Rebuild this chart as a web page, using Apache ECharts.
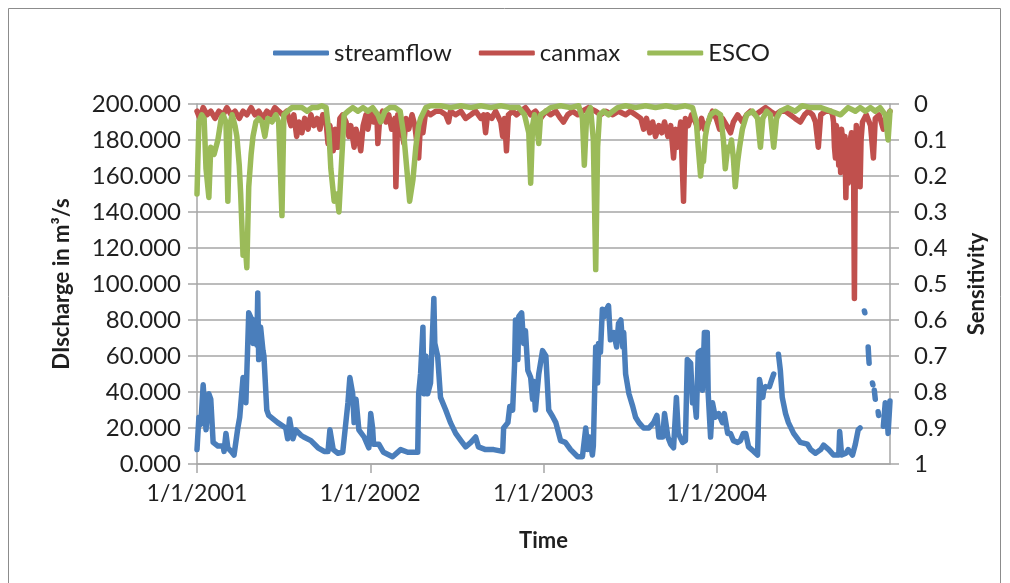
<!DOCTYPE html>
<html>
<head>
<meta charset="utf-8">
<title>Streamflow and parameter sensitivity</title>
<script src="https://cdn.jsdelivr.net/npm/echarts@6/dist/echarts.min.js"></script>
<style>
  html, body { margin: 0; padding: 0; background: #ffffff; }
  #chart { width: 1010px; height: 583px; }
</style>
</head>
<body>
<div id="chart"></div>
<script>
// Daily discharge (m3/s); null marks days with no record
const flowDates = [
  '2001-01-01','2001-01-05','2001-01-09','2001-01-14','2001-01-16','2001-01-20','2001-01-26','2001-01-30',
  '2001-02-04','2001-02-14','2001-02-25','2001-02-27','2001-03-03','2001-03-07','2001-03-14','2001-03-20',
  '2001-03-28','2001-04-01','2001-04-08','2001-04-12','2001-04-14','2001-04-18','2001-04-20','2001-04-25',
  '2001-04-29','2001-05-01','2001-05-07','2001-05-09','2001-05-11','2001-05-13','2001-05-15','2001-05-20',
  '2001-05-22','2001-05-28','2001-06-01','2001-06-20','2001-07-07','2001-07-11','2001-07-15','2001-07-22',
  '2001-07-28','2001-08-08','2001-08-14','2001-08-29','2001-09-13','2001-09-26','2001-10-04','2001-10-08',
  '2001-10-15','2001-10-25','2001-11-04','2001-11-09','2001-11-15','2001-11-19','2001-11-25','2001-11-28',
  '2001-12-02','2001-12-08','2001-12-19','2001-12-29','2002-01-02','2002-01-06','2002-01-08','2002-01-19',
  '2002-01-29','2002-02-17','2002-03-06','2002-03-21','2002-04-03','2002-04-11','2002-04-13','2002-04-17',
  '2002-04-22','2002-04-24','2002-04-28','2002-05-02','2002-05-08','2002-05-15','2002-05-17','2002-05-23',
  '2002-05-29','2002-06-09','2002-06-19','2002-06-30','2002-07-11','2002-07-21','2002-08-01','2002-08-11',
  '2002-08-17','2002-09-01','2002-09-18','2002-10-07','2002-10-09','2002-10-18','2002-10-22','2002-10-28',
  '2002-11-01','2002-11-03','2002-11-08','2002-11-10','2002-11-16','2002-11-20','2002-11-24','2002-11-29',
  '2002-12-05','2002-12-09','2002-12-11','2002-12-15','2002-12-22','2002-12-30','2003-01-06','2003-01-12',
  '2003-01-21','2003-01-27','2003-02-06','2003-02-16','2003-02-27','2003-03-14','2003-03-24','2003-03-31',
  '2003-04-04','2003-04-08','2003-04-14','2003-04-16','2003-04-21','2003-04-25','2003-04-27','2003-05-01',
  '2003-05-05','2003-05-10','2003-05-14','2003-05-18','2003-05-22','2003-05-29','2003-06-04','2003-06-08',
  '2003-06-13','2003-06-17','2003-06-19','2003-06-23','2003-06-30','2003-07-08','2003-07-14','2003-07-21',
  '2003-07-31','2003-08-11','2003-08-21','2003-08-28','2003-09-01','2003-09-09','2003-09-13','2003-09-20',
  '2003-09-26','2003-10-02','2003-10-08','2003-10-12','2003-10-21','2003-10-27','2003-10-31','2003-11-07',
  '2003-11-11','2003-11-15','2003-11-19','2003-11-23','2003-11-28','2003-12-02','2003-12-06','2003-12-12',
  '2003-12-14','2003-12-19','2003-12-23','2003-12-29','2004-01-05','2004-01-13','2004-01-17','2004-01-24',
  '2004-01-30','2004-02-05','2004-02-14','2004-02-20','2004-02-26','2004-03-02','2004-03-08','2004-03-19',
  '2004-03-27','2004-03-31','2004-04-07','2004-04-09','2004-04-13','2004-04-15','2004-04-21','2004-04-26',
  '2004-04-30','2004-05-02','2004-05-10','2004-05-14','2004-05-18','2004-05-25','2004-05-31','2004-06-11',
  '2004-06-25','2004-07-10','2004-07-17','2004-07-27','2004-08-07','2004-08-13','2004-08-24','2004-09-03',
  '2004-09-14','2004-09-16','2004-09-20','2004-09-29','2004-10-04','2004-10-13','2004-10-19','2004-10-25',
  '2004-10-29','2004-10-31','2004-11-07','2004-11-08','2004-11-10','2004-11-15','2004-11-16','2004-11-17',
  '2004-11-19','2004-11-24','2004-11-25','2004-11-27','2004-11-28','2004-11-30','2004-12-02','2004-12-06',
  '2004-12-07','2004-12-09','2004-12-17','2004-12-21','2004-12-25','2004-12-27','2004-12-31'
];
const flowValues = [
  8, 26, 22, 44, 44, 19, 39, 36,
  12, 10, 10, 7, 17, 9, 7, 5,
  20, 26, 48, 48, 34, 34, 84, 81,
  67, 80, 66, 95, 58, 74, 76, 63,
  60, 30, 27, 23, 20, 14, 25, 14,
  19, 16, 15, 13, 9, 7, 7, 19,
  8, 6, 6.5, 19, 34, 48, 39, 23,
  36, 19, 15, 9, 28, 20, 11, 11,
  6.5, 4, 8, 6.5, 6.5, 6.5, 39, 50,
  76, 39, 60, 39, 45, 92, 67, 60,
  37, 30, 23, 17, 13, 9.5, 12, 15,
  9.5, 8, 8, 7, 20, 23, 32, 30,
  55, 80, 58, 82, 84, 67, 74, 52,
  48, 36, 46, 30, 50, 63, 60, 30,
  26, 23, 13, 12, 8, 4, 4, 20,
  8, 15, 5, 10, 65, 45, 67, 62,
  86, 82, 86, 88, 69, 73, 65, 78,
  80, 65, 73, 50, 39, 32, 26, 23,
  20, 20, 23, 27, 15, 15, 28, 15,
  11, 9, 37, 17, 12, 13, 58, 56,
  34, 37, 26, 62, 63, 41, 73, 73,
  39, 15, 34, 26, 28, 23, 28, 17,
  17, 13, 12, 13, 17, 17, 9.5, 7,
  5, 47, 37, 41, 43, null, 43, 47,
  50, null, 61, 52, 37, 28, 23, 17,
  12, 11, 8, 6, 8, 10.5, 8, 5,
  5, 18, 5, 6, 8, 5, 11, 19,
  20, null, 85, 84, null, 65, 60, 56,
  null, 45, 44, null, 41, 36, null, 29,
  27, null, 21, 34, 26, 17, 35
];

// canmax sensitivity index
const canmaxDates = [
  '2001-01-01','2001-01-07','2001-01-14','2001-01-22','2001-01-30','2001-02-08','2001-02-16','2001-02-25',
  '2001-03-05','2001-03-14','2001-03-22','2001-03-31','2001-04-08','2001-04-16','2001-04-25','2001-05-03',
  '2001-05-11','2001-05-20','2001-05-28','2001-06-06','2001-06-14','2001-06-22','2001-07-01','2001-07-09',
  '2001-07-18','2001-07-24','2001-07-30','2001-08-04','2001-08-10','2001-08-16','2001-08-23','2001-08-29',
  '2001-09-04','2001-09-11','2001-09-17','2001-09-23','2001-09-30','2001-10-04','2001-10-08','2001-10-15',
  '2001-10-19','2001-10-25','2001-10-29','2001-11-04','2001-11-11','2001-11-17','2001-11-21','2001-11-28',
  '2001-12-02','2001-12-08','2001-12-12','2001-12-17','2001-12-23','2001-12-27','2002-01-02','2002-01-08',
  '2002-01-15','2002-01-17','2002-01-21','2002-01-27','2002-02-03','2002-02-09','2002-02-15','2002-02-22',
  '2002-02-24','2002-02-28','2002-03-06','2002-03-13','2002-03-17','2002-03-23','2002-03-30','2002-04-05',
  '2002-04-13','2002-04-17','2002-04-22','2002-04-28','2002-05-08','2002-05-19','2002-05-29','2002-06-09',
  '2002-06-15','2002-06-19','2002-06-30','2002-07-11','2002-07-21','2002-08-01','2002-08-11','2002-08-22',
  '2002-08-28','2002-09-01','2002-09-05','2002-09-14','2002-09-22','2002-10-03','2002-10-07','2002-10-11',
  '2002-10-15','2002-10-19','2002-10-28','2002-11-05','2002-11-14','2002-11-24','2002-12-05','2002-12-15',
  '2002-12-26','2003-01-06','2003-01-16','2003-01-27','2003-02-06','2003-02-12','2003-02-21','2003-03-03',
  '2003-03-14','2003-03-24','2003-04-06','2003-04-21','2003-05-01','2003-05-12','2003-05-27','2003-06-08',
  '2003-06-23','2003-07-03','2003-07-14','2003-07-25','2003-07-31','2003-08-06','2003-08-13','2003-08-19',
  '2003-08-25','2003-09-01','2003-09-07','2003-09-13','2003-09-20','2003-09-26','2003-10-02','2003-10-06',
  '2003-10-10','2003-10-17','2003-10-23','2003-10-27','2003-11-02','2003-11-09','2003-11-17','2003-11-23',
  '2003-11-30','2003-12-06','2003-12-14','2003-12-23','2003-12-31','2004-01-07','2004-01-13','2004-01-22',
  '2004-01-30','2004-02-05','2004-02-14','2004-02-24','2004-03-04','2004-03-12','2004-03-23','2004-04-02',
  '2004-04-13','2004-04-23','2004-05-04','2004-05-14','2004-05-25','2004-06-04','2004-06-14','2004-06-25',
  '2004-07-04','2004-07-12','2004-07-21','2004-07-27','2004-08-02','2004-08-07','2004-08-17','2004-08-28',
  '2004-09-01','2004-09-03','2004-09-05','2004-09-07','2004-09-09','2004-09-11','2004-09-14','2004-09-16',
  '2004-09-18','2004-09-20','2004-09-22','2004-09-25','2004-09-27','2004-09-29','2004-10-01','2004-10-04',
  '2004-10-06','2004-10-08','2004-10-11','2004-10-13','2004-10-15','2004-10-17','2004-10-19','2004-10-21',
  '2004-10-23','2004-10-25','2004-10-27','2004-10-29','2004-10-31','2004-11-03','2004-11-11','2004-11-20',
  '2004-11-26','2004-11-30','2004-12-08','2004-12-17','2004-12-23','2004-12-31'
];
const canmaxValues = [
  0.02, 0.04, 0.01, 0.03, 0.02, 0.04, 0.02, 0.03,
  0.01, 0.03, 0.02, 0.04, 0.02, 0.03, 0.01, 0.03,
  0.02, 0.04, 0.02, 0.03, 0.01, 0.02, 0.03, 0.02,
  0.06, 0.03, 0.09, 0.05, 0.08, 0.04, 0.07, 0.03,
  0.06, 0.04, 0.07, 0.03, 0.05, 0.11, 0.06, 0.13,
  0.07, 0.12, 0.04, 0.03, 0.05, 0.09, 0.06, 0.12,
  0.07, 0.10, 0.13, 0.06, 0.03, 0.07, 0.02, 0.05,
  0.03, 0.11, 0.04, 0.02, 0.05, 0.03, 0.07, 0.04,
  0.23, 0.03, 0.06, 0.11, 0.04, 0.07, 0.03, 0.06,
  0.15, 0.05, 0.08, 0.02, 0.03, 0.02, 0.02, 0.03,
  0.05, 0.02, 0.03, 0.02, 0.04, 0.03, 0.02, 0.04,
  0.03, 0.08, 0.03, 0.04, 0.02, 0.05, 0.09, 0.04,
  0.13, 0.03, 0.02, 0.03, 0.02, 0.01, 0.03, 0.02,
  0.04, 0.02, 0.03, 0.02, 0.04, 0.05, 0.03, 0.02,
  0.03, 0.02, 0.01, 0.02, 0.03, 0.02, 0.03, 0.02,
  0.03, 0.02, 0.03, 0.04, 0.07, 0.04, 0.08, 0.05,
  0.09, 0.06, 0.08, 0.05, 0.09, 0.06, 0.15, 0.07,
  0.12, 0.05, 0.27, 0.04, 0.06, 0.03, 0.05, 0.07,
  0.04, 0.07, 0.05, 0.02, 0.04, 0.07, 0.04, 0.06,
  0.08, 0.05, 0.03, 0.05, 0.03, 0.02, 0.03, 0.02,
  0.01, 0.02, 0.03, 0.02, 0.02, 0.03, 0.04, 0.05,
  0.03, 0.02, 0.03, 0.05, 0.12, 0.03, 0.02, 0.02,
  0.03, 0.05, 0.12, 0.15, 0.06, 0.08, 0.17, 0.09,
  0.19, 0.07, 0.10, 0.18, 0.09, 0.26, 0.14, 0.22,
  0.20, 0.10, 0.08, 0.19, 0.12, 0.54, 0.15, 0.06,
  0.18, 0.12, 0.07, 0.23, 0.10, 0.05, 0.03, 0.06,
  0.15, 0.04, 0.03, 0.07, 0.04, 0.02
];

// ESCO sensitivity index
const escoDates = [
  '2001-01-01','2001-01-05','2001-01-11','2001-01-16','2001-01-20','2001-01-26','2001-01-30','2001-02-06',
  '2001-02-14','2001-02-21','2001-02-25','2001-03-03','2001-03-07','2001-03-11','2001-03-16','2001-03-22',
  '2001-03-26','2001-03-31','2001-04-03','2001-04-08','2001-04-12','2001-04-16','2001-04-20','2001-04-25',
  '2001-04-29','2001-05-05','2001-05-11','2001-05-18','2001-05-24','2001-05-30','2001-06-08','2001-06-16',
  '2001-06-22','2001-06-29','2001-07-03','2001-07-11','2001-07-20','2001-07-30','2001-08-10','2001-08-21',
  '2001-08-31','2001-09-11','2001-09-21','2001-09-30','2001-10-06','2001-10-10','2001-10-17','2001-10-23',
  '2001-10-27','2001-11-02','2001-11-07','2001-11-15','2001-11-25','2001-12-06','2001-12-17','2001-12-27',
  '2002-01-06','2002-01-17','2002-01-23','2002-02-01','2002-02-11','2002-02-22','2002-03-05','2002-03-13',
  '2002-03-19','2002-03-25','2002-04-01','2002-04-07','2002-04-13','2002-04-17','2002-04-28','2002-05-08',
  '2002-05-29','2002-06-19','2002-07-11','2002-08-01','2002-08-22','2002-09-12','2002-10-03','2002-10-24',
  '2002-11-10','2002-11-22','2002-12-01','2002-12-05','2002-12-09','2002-12-13','2002-12-17','2002-12-22',
  '2002-12-26','2003-01-06','2003-01-16','2003-02-06','2003-02-27','2003-03-16','2003-03-24','2003-03-28',
  '2003-04-02','2003-04-10','2003-04-16','2003-04-21','2003-04-25','2003-04-29','2003-05-08','2003-05-18',
  '2003-05-27','2003-06-06','2003-06-23','2003-07-14','2003-08-04','2003-08-25','2003-09-16','2003-10-06',
  '2003-10-27','2003-11-11','2003-11-19','2003-11-23','2003-11-28','2003-12-02','2003-12-04','2003-12-08',
  '2003-12-12','2003-12-19','2003-12-29','2004-01-09','2004-01-15','2004-01-19','2004-01-24','2004-01-28',
  '2004-02-01','2004-02-05','2004-02-09','2004-02-14','2004-02-18','2004-02-24','2004-03-04','2004-03-16',
  '2004-03-27','2004-04-02','2004-04-07','2004-04-15','2004-04-23','2004-04-30','2004-05-06','2004-05-14',
  '2004-05-29','2004-06-14','2004-06-29','2004-07-17','2004-08-07','2004-08-28','2004-09-18','2004-10-04',
  '2004-10-19','2004-10-29','2004-11-09','2004-11-20','2004-11-30','2004-12-10','2004-12-21','2004-12-27',
  '2004-12-31'
];
const escoValues = [
  0.25, 0.05, 0.03, 0.04, 0.18, 0.26, 0.12, 0.14,
  0.10, 0.04, 0.03, 0.05, 0.27, 0.06, 0.03, 0.06,
  0.09, 0.17, 0.25, 0.42, 0.38, 0.455, 0.23, 0.14,
  0.09, 0.05, 0.04, 0.05, 0.09, 0.04, 0.05, 0.03,
  0.05, 0.31, 0.03, 0.02, 0.01, 0.01, 0.01, 0.02,
  0.01, 0.01, 0.005, 0.01, 0.08, 0.18, 0.27, 0.25,
  0.30, 0.15, 0.03, 0.02, 0.01, 0.02, 0.01, 0.02,
  0.01, 0.03, 0.05, 0.02, 0.01, 0.01, 0.02, 0.09,
  0.18, 0.27, 0.21, 0.12, 0.06, 0.04, 0.01, 0.005,
  0.005, 0.01, 0.005, 0.01, 0.005, 0.01, 0.005, 0.01,
  0.01, 0.03, 0.08, 0.22, 0.06, 0.03, 0.05, 0.11,
  0.03, 0.02, 0.01, 0.005, 0.01, 0.005, 0.04, 0.17,
  0.03, 0.01, 0.10, 0.46, 0.12, 0.03, 0.02, 0.03,
  0.02, 0.01, 0.005, 0.01, 0.005, 0.01, 0.005, 0.01,
  0.005, 0.01, 0.05, 0.12, 0.20, 0.14, 0.16, 0.09,
  0.06, 0.03, 0.02, 0.03, 0.10, 0.18, 0.12, 0.13,
  0.10, 0.15, 0.23, 0.16, 0.12, 0.07, 0.03, 0.02,
  0.04, 0.12, 0.04, 0.02, 0.03, 0.12, 0.04, 0.02,
  0.01, 0.02, 0.005, 0.01, 0.01, 0.02, 0.03, 0.01,
  0.02, 0.01, 0.02, 0.01, 0.02, 0.01, 0.03, 0.10,
  0.02
];

const FONT = 'Lato, "Open Sans", sans-serif';
const TEXT = '#1f1f1f';
const GRID_COLOR = '#a6a6a6';
const LINE_WIDTH = 5.5;

function pairs(dates, values) {
  return dates.map((d, i) => [d, values[i] === null ? '-' : values[i]]);
}

function lineSeries(name, axis, color, z, data) {
  return {
    type: 'line',
    name: name,
    yAxisIndex: axis,
    z: z,
    showSymbol: false,
    symbol: 'none',
    connectNulls: false,
    animation: false,
    itemStyle: { color: color },
    lineStyle: { color: color, width: LINE_WIDTH, cap: 'round', join: 'round' },
    emphasis: { disabled: true },
    data: data
  };
}

const chart = echarts.init(document.getElementById('chart'), null, { renderer: 'canvas' });

chart.setOption({
  backgroundColor: '#ffffff',
  animation: false,
  textStyle: { fontFamily: FONT, color: TEXT },
  graphic: [{
    type: 'rect',
    silent: true,
    shape: { x: 8.5, y: 8.5, width: 992, height: 600 },
    style: { fill: 'none', stroke: '#8c8c8c', lineWidth: 1 }
  }],
  legend: {
    top: 36,
    left: 268,
    itemWidth: 56,
    itemHeight: 5,
    itemGap: 27,
    icon: 'roundRect',
    textStyle: { fontFamily: FONT, fontSize: 24, color: TEXT },
    data: ['streamflow', 'canmax', 'ESCO']
  },
  grid: { left: 197, right: 120, top: 104, bottom: 119, containLabel: false },
  xAxis: {
    type: 'time',
    min: '2001-01-01',
    max: '2004-12-31',
    splitNumber: 4,
    minInterval: 365 * 24 * 3600 * 1000,
    name: 'Time',
    nameLocation: 'middle',
    nameGap: 66,
    nameTextStyle: { fontFamily: FONT, fontSize: 22, fontWeight: 'bold', color: TEXT },
    axisLine: { show: true, onZero: false, lineStyle: { color: GRID_COLOR, width: 1.5 } },
    axisTick: { show: true, length: 9, lineStyle: { color: GRID_COLOR, width: 1.5 } },
    minorTick: { show: false },
    splitLine: { show: false },
    axisLabel: {
      formatter: '{M}/{d}/{yyyy}',
      fontFamily: FONT, fontSize: 23, color: TEXT, margin: 18,
      showMinLabel: true, showMaxLabel: false
    }
  },
  yAxis: [{
    type: 'value',
    min: 0, max: 200, interval: 20,
    name: 'DIscharge in m³/s',
    nameLocation: 'middle',
    nameGap: 124,
    nameTextStyle: { fontFamily: FONT, fontSize: 22, fontWeight: 'bold', color: TEXT },
    axisLine: { show: true, lineStyle: { color: GRID_COLOR, width: 1.5 } },
    axisTick: { show: true, length: 9, lineStyle: { color: GRID_COLOR, width: 1.5 } },
    splitLine: { show: true, lineStyle: { color: GRID_COLOR, width: 1.5 } },
    axisLabel: {
      formatter: v => v.toFixed(3),
      fontFamily: FONT, fontSize: 24, color: TEXT, margin: 16
    }
  }, {
    type: 'value',
    min: 0, max: 1, interval: 0.1,
    inverse: true,
    position: 'right',
    name: 'Sensitivity',
    nameLocation: 'middle',
    nameGap: 76,
    nameRotate: 90,
    nameTextStyle: { fontFamily: FONT, fontSize: 22, fontWeight: 'bold', color: TEXT },
    axisLine: { show: true, lineStyle: { color: GRID_COLOR, width: 1.5 } },
    axisTick: { show: true, length: 9, lineStyle: { color: GRID_COLOR, width: 1.5 } },
    splitLine: { show: false },
    axisLabel: {
      formatter: v => String(+v.toFixed(1)),
      fontFamily: FONT, fontSize: 24, color: TEXT, margin: 24
    }
  }],
  series: [
    lineSeries('streamflow', 0, '#4a7ebb', 2, pairs(flowDates, flowValues)),
    lineSeries('canmax', 1, '#c0504d', 3, pairs(canmaxDates, canmaxValues)),
    lineSeries('ESCO', 1, '#9bbb59', 4, pairs(escoDates, escoValues))
  ]
});
</script>
</body>
</html>
